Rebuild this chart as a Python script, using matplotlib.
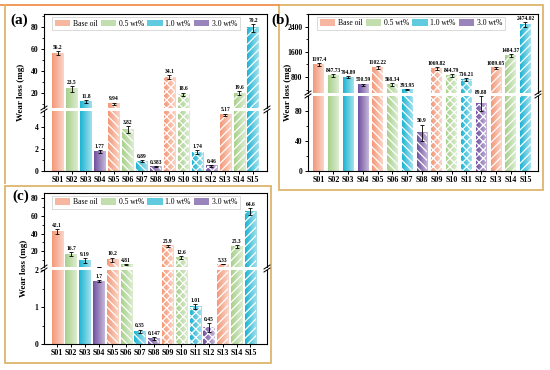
import numpy as np
import matplotlib
matplotlib.use('Agg')
import matplotlib.pyplot as plt
from matplotlib.colors import to_rgb
from matplotlib.patches import Patch, Rectangle
from matplotlib.lines import Line2D
from matplotlib.ticker import MultipleLocator

# ---------------- data ----------------
samples = ['S01', 'S02', 'S03', 'S04', 'S05', 'S06', 'S07', 'S08',
           'S09', 'S10', 'S11', 'S12', 'S13', 'S14', 'S15']
legend_labels = ['Base oil', '0.5 wt%', '1.0 wt%', '3.0 wt%']
conc_index = [0, 1, 2, 3, 0, 1, 2, 3, 0, 1, 2, 3, 0, 1, 2]
pattern_group = [0, 0, 0, 0, 1, 1, 1, 1, 2, 2, 2, 2, 3, 3, 3]

wear_a = [56.2, 23.5, 11.8, 1.77, 9.94, 3.82, 0.89, 0.383,
          34.1, 18.6, 1.74, 0.46, 5.17, 19.6, 79.2]
err_a = [2.0, 2.5, 1.5, 0.15, 1.0, 0.3, 0.1, 0.05,
         2.0, 1.5, 0.15, 0.06, 0.1, 1.5, 4.0]

wear_b = [1197.4, 847.73, 794.89, 550.59, 1102.22, 568.34, 393.95, 50.9,
          1069.82, 844.79, 716.21, 89.88, 1089.05, 1484.37, 2474.02]
err_b = [40, 50, 30, 40, 50, 40, 20, 11,
         40, 40, 40, 10, 30, 40, 80]

wear_c = [42.1, 16.7, 9.19, 1.7, 10.2, 4.81, 0.35, 0.147,
          25.9, 12.6, 1.01, 0.45, 5.33, 25.3, 64.6]
err_c = [2.5, 2.5, 2.5, 0.03, 2.5, 0.3, 0.04, 0.04,
         1.5, 2.0, 0.06, 0.12, 0.3, 2.0, 4.0]

# ---------------- style ----------------
plt.rcParams['font.family'] = ['Liberation Serif', 'DejaVu Serif']
plt.rcParams['font.weight'] = 'bold'
plt.rcParams['hatch.color'] = 'white'
plt.rcParams['hatch.linewidth'] = 0.9

bar_colors = ['#F39877', '#A8D08C', '#1CB4D2', '#7050A0']
hatches = ['', '\\\\\\\\', 'xxxx', '////']

W, H = 550, 370
fig = plt.figure(figsize=(5.5, 3.7), dpi=100)


def rect(x0, y0, x1, y1):
    return [x0 / W, 1 - y1 / H, (x1 - x0) / W, (y1 - y0) / H]


def gradient_img(color):
    c = np.array(to_rgb(color))
    light = c + (1 - c) * 0.6
    g = np.linspace(0, 1, 40)[:, None]
    return (c[None, :] * (1 - g) + light[None, :] * g)[None, :, :]


def fig_line(xs, ys, **kw):
    fig.add_artist(Line2D([x / W for x in xs], [1 - y / H for y in ys],
                          transform=fig.transFigure, **kw))


def draw_panel(vals, errs, px, ylim_t, ylim_b, xlim, width,
               maj_t, min_t, maj_b, min_b, ylab_x, letter, letter_xy, leg_cx):
    left, top, brk_t, brk_b, bottom, right = px
    ax_t = fig.add_axes(rect(left, top, right, brk_t))
    ax_b = fig.add_axes(rect(left, brk_b, right, bottom))
    x = np.arange(len(samples))
    for ax, yl in ((ax_t, ylim_t), (ax_b, ylim_b)):
        bars = ax.bar(x, vals, width=width, color=(0, 0, 0, 0),
                      linewidth=0, zorder=2)
        for i, p in enumerate(bars):
            p.set_hatch(hatches[pattern_group[i]])
            x0, y0 = p.get_x(), p.get_y()
            w, h = p.get_width(), p.get_height()
            ylo, yhi = max(y0, yl[0]), min(y0 + h, yl[1])
            if yhi <= ylo:
                continue
            ax.imshow(gradient_img(bar_colors[conc_index[i]]),
                      extent=[x0, x0 + w, ylo, yhi], aspect='auto',
                      origin='lower', zorder=1.5, interpolation='bilinear')
        ax.errorbar(x, vals, yerr=errs, fmt='none', ecolor='black',
                    elinewidth=0.6, capsize=1.5, capthick=0.6, zorder=3)
        ax.set_xlim(xlim)
        ax.set_ylim(yl)
        for s in ax.spines.values():
            s.set_linewidth(0.8)
        ax.tick_params(axis='y', which='major', length=2.5, width=0.7,
                       labelsize=5.5, pad=1.5)
        ax.tick_params(axis='y', which='minor', length=1.5, width=0.6)
        ax.tick_params(axis='y', right=False)
    ax_t.spines['bottom'].set_visible(False)
    ax_b.spines['top'].set_visible(False)
    ax_t.tick_params(axis='x', bottom=False, labelbottom=False)
    ax_b.set_xticks(x)
    ax_b.set_xticklabels(samples)
    ax_b.tick_params(axis='x', length=2, width=0.7, labelsize=5.8, pad=1.5)
    ax_t.yaxis.set_major_locator(MultipleLocator(maj_t))
    ax_t.yaxis.set_minor_locator(MultipleLocator(min_t))
    ax_b.yaxis.set_major_locator(MultipleLocator(maj_b))
    ax_b.yaxis.set_minor_locator(MultipleLocator(min_b))

    # value labels
    for i in range(len(samples)):
        v, e = vals[i], errs[i]
        ax = ax_t if v > ylim_t[0] else ax_b
        ax.annotate(f'{v:g}', (x[i], v + e), xytext=(0, 0.8),
                    textcoords='offset points', ha='center', va='bottom',
                    fontsize=4, fontweight='bold', zorder=5,
                    annotation_clip=False)

    # legend
    handles = [Patch(facecolor=bar_colors[k], alpha=0.7, edgecolor='none')
               for k in range(4)]
    leg = ax_t.legend(handles, legend_labels, ncol=4, loc='upper center',
                      bbox_to_anchor=((leg_cx - left) / (right - left), 0.985),
                      prop={'weight': 'normal', 'size': 5.5},
                      handlelength=2.0, handleheight=0.95, columnspacing=0.45,
                      handletextpad=0.35, borderpad=0.35, borderaxespad=0.2,
                      frameon=True, fancybox=False, edgecolor='#cccccc',
                      framealpha=1)
    leg.get_frame().set_linewidth(0.5)
    leg.set_zorder(10)

    # break marks
    for sx in (left, right):
        for sy in (brk_t, brk_b):
            fig_line([sx - 3, sx + 3], [sy + 2, sy - 2], color='black', lw=0.7)

    fig.text(ylab_x / W, 1 - ((top + bottom) / 2) / H, 'Wear loss (mg)',
             rotation=90, ha='center', va='center', fontsize=6.5,
             fontweight='bold')
    fig.text(letter_xy[0] / W, 1 - letter_xy[1] / H, letter, ha='left',
             va='center', fontsize=11, fontweight='bold')


# decorative frames
fig_line([0, 279], [5, 5], color='#F2924E', lw=1.3)
fig_line([5, 5], [5, 183], color='#DDB46C', lw=1.3)
fig.add_artist(Rectangle((279 / W, 1 - 190 / H), (543 - 279) / W, (190 - 5) / H,
                         transform=fig.transFigure, fill=False,
                         edgecolor='#DDB46C', lw=1.3))
fig.add_artist(Rectangle((5 / W, 1 - 363 / H), (271 - 5) / W, (363 - 186) / H,
                         transform=fig.transFigure, fill=False,
                         edgecolor='#DDB46C', lw=1.3))

draw_panel(wear_a, err_a, (44, 14, 108, 111, 171, 267), (6, 92), (0, 5.5),
           (-1, 15), 0.8, 20, 10, 2, 1, 21, '(a)', (10, 20), 146)
draw_panel(wear_b, err_b, (308, 14, 93, 96, 171, 538), (290, 2810), (0, 100),
           (-0.72, 14.85), 0.72, 800, 400, 40, 20, 288, '(b)', (271, 20), 411)
draw_panel(wear_c, err_c, (44, 193, 267, 270, 344, 267), (2, 86), (0, 2),
           (-0.95, 15.2), 0.8, 20, 10, 1, 0.5, 24, '(c)', (12, 196), 146)

fig.savefig('out.png', dpi=100)
